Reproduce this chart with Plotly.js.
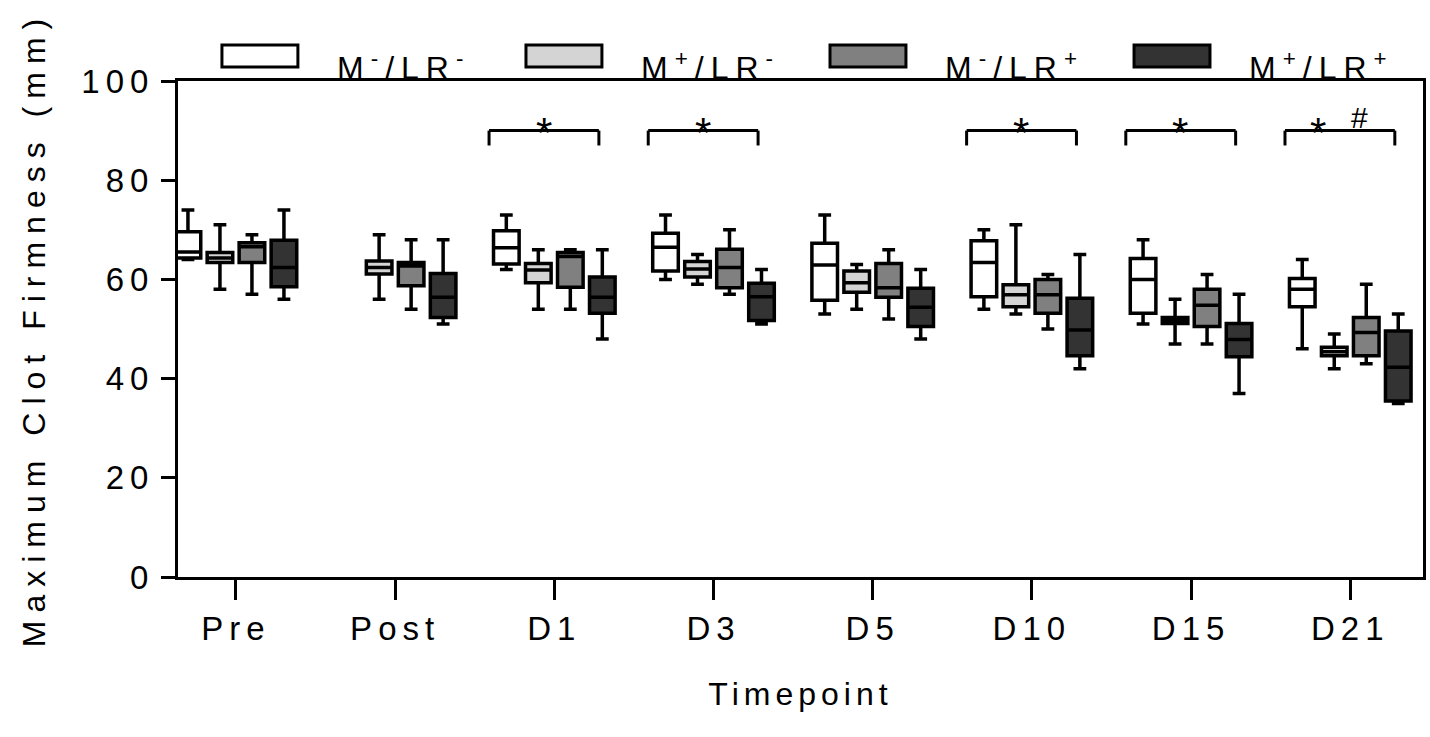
<!DOCTYPE html>
<html><head><meta charset="utf-8">
<script src="https://cdn.plot.ly/plotly-3.0.1.min.js"></script>
<style>
html,body{margin:0;padding:0;background:#fff;}
#chart{width:1430px;height:737px;}
svg text{letter-spacing:6px;}
.g-ytitle text{letter-spacing:8px;}
.g-xtitle text{letter-spacing:5px;}
.annotation-text{letter-spacing:7px;}
</style></head><body><div id="chart"></div>
<script>
const timepoints = ['Pre','Post','D1','D3','D5','D10','D15','D21'];
const seriesNames = ['M<sup>-</sup>/LR<sup>-</sup>','M<sup>+</sup>/LR<sup>-</sup>','M<sup>-</sup>/LR<sup>+</sup>','M<sup>+</sup>/LR<sup>+</sup>'];
const seriesFill = ['#ffffff','#d4d4d4','#808080','#333333'];

// M-/LR-
const s1Min = [64, null, 62, 60, 53, 54, 51, 46];
const s1Q1  = [64.3, null, 63.1, 61.7, 55.8, 56.5, 53.2, 54.5];
const s1Med = [65.5, null, 66.4, 66.5, 62.9, 63.4, 60.0, 58.0];
const s1Q3  = [69.6, null, 69.8, 69.3, 67.3, 67.8, 64.2, 60.2];
const s1Max = [74, null, 73, 73, 73, 70, 68, 64];
// M+/LR-
const s2Min = [58, 56, 54, 59, 54, 53, 47, 42];
const s2Q1  = [63.4, 61.1, 59.3, 60.5, 57.4, 54.5, 51.1, 44.6];
const s2Med = [64.3, 62.4, 61.9, 62.1, 59.3, 56.9, 51.7, 45.4];
const s2Q3  = [65.4, 63.7, 63.2, 63.6, 61.7, 58.9, 52.3, 46.3];
const s2Max = [71, 69, 66, 65, 63, 71, 56, 49];
// M-/LR+
const s3Min = [57, 54, 54, 57, 52, 50, 47, 43];
const s3Q1  = [63.4, 58.7, 58.4, 58.3, 56.4, 53.2, 50.5, 44.6];
const s3Med = [66.6, 62.7, 64.6, 62.4, 58.3, 56.9, 54.8, 49.3];
const s3Q3  = [67.4, 63.4, 65.4, 66.1, 63.2, 60.0, 58.0, 52.3];
const s3Max = [69, 68, 66, 70, 66, 61, 61, 59];
// M+/LR+
const s4Min = [56, 51, 48, 51, 48, 42, 37, 35];
const s4Q1  = [58.5, 52.3, 53.2, 51.7, 50.5, 44.6, 44.4, 35.5];
const s4Med = [62.4, 56.4, 56.4, 56.5, 54.4, 49.8, 47.9, 42.3];
const s4Q3  = [67.9, 61.2, 60.5, 59.2, 58.2, 56.2, 51.1, 49.6];
const s4Max = [74, 68, 66, 62, 62, 65, 57, 53];

const starTimepoints = ['D1','D3','D10','D15','D21'];
const hashTimepoints = ['D21'];
const bracketLevel = 90;

const allStats = [
  [s1Min, s1Q1, s1Med, s1Q3, s1Max],
  [s2Min, s2Q1, s2Med, s2Q3, s2Max],
  [s3Min, s3Q1, s3Med, s3Q3, s3Max],
  [s4Min, s4Q1, s4Med, s4Q3, s4Max]
];

const traces = allStats.map((st, k) => {
  const idx = timepoints.map((t, i) => i).filter(i => st[2][i] !== null);
  const pick = a => idx.map(i => a[i]);
  return {
    type: 'box', name: seriesNames[k],
    x: pick(timepoints),
    lowerfence: pick(st[0]), q1: pick(st[1]), median: pick(st[2]),
    q3: pick(st[3]), upperfence: pick(st[4]),
    fillcolor: seriesFill[k],
    line: {color: '#000', width: 3.5},
    whiskerwidth: 0.5, boxpoints: false,
    hoverinfo: 'skip', showlegend: false
  };
});

const shapes = [];
const annotations = [];
starTimepoints.forEach(tp => {
  const i = timepoints.indexOf(tp);
  const a = i - 0.41, b = i + 0.28;
  const ln = {color: '#000', width: 3};
  shapes.push({type: 'line', xref: 'x', yref: 'y', x0: a, x1: b, y0: bracketLevel, y1: bracketLevel, line: ln});
  shapes.push({type: 'line', xref: 'x', yref: 'y', x0: a, x1: a, y0: bracketLevel, y1: bracketLevel - 3, line: ln});
  shapes.push({type: 'line', xref: 'x', yref: 'y', x0: b, x1: b, y0: bracketLevel, y1: bracketLevel - 3, line: ln});
  const hasHash = hashTimepoints.includes(tp);
  annotations.push({xref: 'x', yref: 'y', x: hasHash ? i - 0.18 : i - 0.045, y: bracketLevel - 0.3,
    text: '*', showarrow: false, xanchor: 'center', yanchor: 'middle', font: {size: 42, color: '#000'}});
});
hashTimepoints.forEach(tp => {
  const i = timepoints.indexOf(tp);
  annotations.push({xref: 'x', yref: 'y', x: i + 0.08, y: bracketLevel - 1, text: '#', showarrow: false,
    xanchor: 'center', yanchor: 'bottom', font: {size: 30, color: '#000'}});
});

// legend drawn as shapes + labels
seriesNames.forEach((nm, k) => {
  const x0 = 0.0353 + k * 0.2442;
  shapes.push({type: 'rect', xref: 'paper', yref: 'paper', x0: x0, x1: x0 + 0.061, y0: 1.028, y1: 1.0726,
    fillcolor: seriesFill[k], line: {color: '#000', width: 3}});
  annotations.push({xref: 'paper', yref: 'paper', x: x0 + 0.0908, y: 0.985, xanchor: 'left', yanchor: 'bottom',
    text: nm, showarrow: false, font: {size: 32, color: '#000'}});
});

const layout = {
  width: 1430, height: 737,
  margin: {l: 178, r: 7, t: 81, b: 160},
  paper_bgcolor: '#fff', plot_bgcolor: '#fff',
  font: {family: '"Liberation Sans", Arial, sans-serif', size: 34, color: '#000'},
  boxmode: 'group', boxgap: 0.196, boxgroupgap: 0.2,
  showlegend: false,
  xaxis: {type: 'category', categoryorder: 'array', categoryarray: timepoints,
    range: [-0.364, 7.457], showline: true, linewidth: 3, linecolor: '#000', mirror: true,
    ticks: 'outside', ticklen: 20, tickwidth: 3, tickcolor: '#000',
    showgrid: false, zeroline: false, tickfont: {size: 33},
    title: {text: 'Timepoint', font: {size: 32}, standoff: 38}, automargin: false},
  yaxis: {range: [0, 100], dtick: 20, tick0: 0, showline: true, linewidth: 3, linecolor: '#000', mirror: true,
    ticks: 'outside', ticklen: 14, tickwidth: 3, tickcolor: '#000',
    showgrid: false, zeroline: false, tickfont: {size: 33},
    title: {text: 'Maximum Clot Firmness (mm)', font: {size: 32}, standoff: 27}, automargin: false},
  shapes: shapes, annotations: annotations
};

Plotly.newPlot('chart', traces, layout, {staticPlot: true, displayModeBar: false});
</script></body></html>
